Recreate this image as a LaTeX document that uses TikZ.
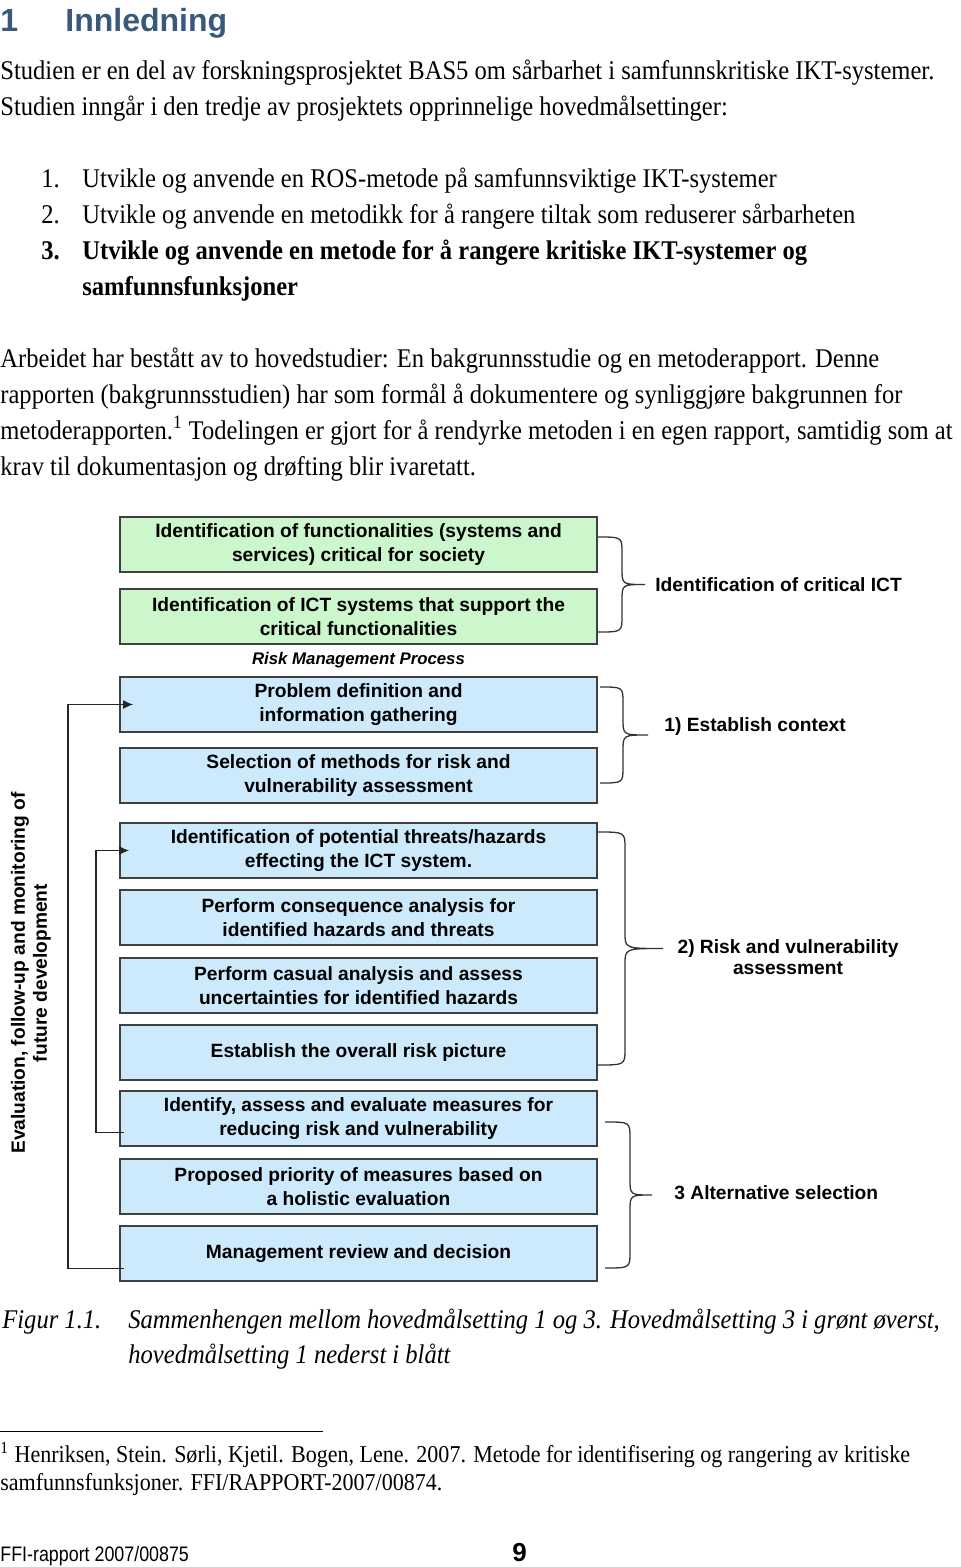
\documentclass[tikz,border=0pt]{standalone}
\usepackage{fontspec}
\setmainfont{Liberation Serif}[FakeStretch=0.91]
\setsansfont{Liberation Sans}
\newfontfamily\narrowsans{Liberation Sans}[FakeStretch=0.85]
\usepackage{xcolor}
\usetikzlibrary{positioning}
\usetikzlibrary{arrows.meta}
\usetikzlibrary{calc}

\definecolor{headblue}{RGB}{56,88,124}
\definecolor{goalgreen}{RGB}{204,246,204}
\definecolor{riskblue}{RGB}{204,234,252}
\definecolor{framegray}{RGB}{64,64,64}

% curly bracket: start x, spine x, tip x, top y, bottom y
\newcommand{\curly}[5]{%
	\draw [brace] (#1,#4) .. controls (#2,#4) .. (#2,#4+16)
		-- (#2,{(#4+#5)/2-16}) .. controls (#2,{(#4+#5)/2}) .. (#3,{(#4+#5)/2})
		.. controls (#2,{(#4+#5)/2}) .. (#2,{(#4+#5)/2+16})
		-- (#2,#5-16) .. controls (#2,#5) .. (#1,#5);}

\begin{document}
\begin{tikzpicture}[x=0.5pt, y=-0.5pt]
	\tikzstyle{body} = [anchor=base west, inner sep=0pt, font=\fontsize{13.5}{16}\selectfont]
	\tikzstyle{bodybold} = [body, font=\fontsize{13.5}{16}\selectfont\bfseries]
	\tikzstyle{caption} = [body, font=\fontsize{13.5}{16}\selectfont\itshape]
	\tikzstyle{note} = [body, font=\fontsize{12.1}{14}\selectfont]
	\tikzstyle{goal} = [draw=framegray, line width=0.75pt, fill=goalgreen, minimum width=238.5pt, minimum height=27.5pt, align=center, inner sep=0pt, outer sep=0pt, font=\sffamily\bfseries\fontsize{9.6}{12}\selectfont]
	\tikzstyle{riskbox} = [goal, fill=riskblue]
	\tikzstyle{phase} = [anchor=west, align=center, inner sep=0pt, font=\sffamily\bfseries\fontsize{9.6}{10.5}\selectfont]
	\tikzstyle{line} = [draw=black!85, -{Latex[length=5pt, width=4.5pt]}, line width=0.55pt]
	\tikzstyle{brace} = [draw=black!80, line width=0.65pt]
	
	\useasboundingbox (0,0) rectangle (960,1567);
	
	% heading and text
	\node [anchor=base west, inner sep=0pt, text=headblue, font=\sffamily\bfseries\fontsize{16}{19}\selectfont] (secnum) at (0,32) {1};
	\node [anchor=base west, inner sep=0pt, text=headblue, font=\sffamily\bfseries\fontsize{16}{19}\selectfont] (sectitle) at (65,32) {Innledning};
	
	\node [body] (intro1) at (0,80) {Studien er en del av forskningsprosjektet BAS5 om sårbarhet i samfunnskritiske IKT-systemer.};
	\node [body] (intro2) at (0,116) {Studien inngår i den tredje av prosjektets opprinnelige hovedmålsettinger:};
	
	\node [body] (num1) at (41,188) {1.};
	\node [body] (aim1) at (82,188) {Utvikle og anvende en ROS-metode på samfunnsviktige IKT-systemer};
	\node [body] (num2) at (41,224) {2.};
	\node [body] (aim2) at (82,224) {Utvikle og anvende en metodikk for å rangere tiltak som reduserer sårbarheten};
	\node [bodybold] (num3) at (41,260) {3.};
	\node [bodybold] (aim3a) at (82,260) {Utvikle og anvende en metode for å rangere kritiske IKT-systemer og};
	\node [bodybold] (aim3b) at (82,296) {samfunnsfunksjoner};
	
	\node [body] (work1) at (0,367) {Arbeidet har bestått av to hovedstudier: En bakgrunnsstudie og en metoderapport. Denne};
	\node [body] (work2) at (0,403) {rapporten (bakgrunnsstudien) har som formål å dokumentere og synliggjøre bakgrunnen for};
	\node [body] (work3) at (0,439) {metoderapporten.\textsuperscript{1} Todelingen er gjort for å rendyrke metoden i en egen rapport, samtidig som at};
	\node [body] (work4) at (0,475) {krav til dokumentasjon og drøfting blir ivaretatt.};
	
	% figure
	\node [goal] (func) at (358.5,544.5) {Identification of functionalities (systems and\\ services) critical for society};
	\node [goal, below=8.5pt of func] (ictsys) {Identification of ICT systems that support the\\ critical functionalities};
	\node [riskbox, below=16.5pt of ictsys] (problem) {Problem definition and\\ information gathering};
	\node [riskbox, below=8pt of problem] (methods) {Selection of methods for risk and\\ vulnerability assessment};
	\node [riskbox, below=10pt of methods] (threats) {Identification of potential threats/hazards\\ effecting the ICT system.};
	\node [riskbox, below=6pt of threats] (conseq) {Perform consequence analysis for\\ identified hazards and threats};
	\node [riskbox, below=6.5pt of conseq] (causal) {Perform casual analysis and assess\\ uncertainties for identified hazards};
	\node [riskbox, below=6pt of causal] (picture) {Establish the overall risk picture};
	\node [riskbox, below=5.5pt of picture] (measures) {Identify, assess and evaluate measures for\\ reducing risk and vulnerability};
	\node [riskbox, below=6.5pt of measures] (priority) {Proposed priority of measures based on\\ a holistic evaluation};
	\node [riskbox, below=6pt of priority] (review) {Management review and decision};
	
	\node [inner sep=0pt, font=\sffamily\bfseries\itshape\fontsize{8.4}{10}\selectfont] (rmp) at ($(ictsys.south)!0.5!(problem.north)$) {Risk Management Process};
	
	\path [line] ([shift={(2pt,-7.5pt)}]review.west) -- ++(-28pt,0) |- ([xshift=6.5pt]problem.west);
	\path [line] ([shift={(2pt,-7pt)}]measures.west) -- ++(-14pt,0) |- ([xshift=4.5pt]threats.west);
	
	\node [rotate=90, align=center, inner sep=0pt, font=\sffamily\bfseries\fontsize{9.6}{11}\selectfont] (evaluation) at (31,973) {Evaluation, follow-up and monitoring of\\ future development};
	
	\curly{598}{622}{645}{537}{632}
	\curly{600}{623}{648}{687}{783}
	\curly{597}{625}{663}{832}{1065}
	\curly{605}{630}{652}{1122}{1268}
	
	\node [phase] (critict) at (655,585) {Identification of critical ICT};
	\node [phase] (context) at (664,727) {1) Establish context};
	\node [phase, anchor=center] (riskvul) at (788,957) {2) Risk and vulnerability\\ assessment};
	\node [phase] (altsel) at (674,1193) {3 Alternative selection};
	
	% caption, footnote, footer
	\node [caption] (figlabel) at (2,1328) {Figur 1.1.};
	\node [caption] (cap1) at (128,1328) {Sammenhengen mellom hovedmålsetting 1 og 3. Hovedmålsetting 3 i grønt øverst,};
	\node [caption] (cap2) at (128,1363) {hovedmålsetting 1 nederst i blått};
	
	\draw [line width=0.5pt] (0,1431) -- (323,1431);
	\node [note] (fn1) at (0,1462) {\textsuperscript{1} Henriksen, Stein. Sørli, Kjetil. Bogen, Lene. 2007. Metode for identifisering og rangering av kritiske};
	\node [note] (fn2) at (0,1490) {samfunnsfunksjoner. FFI/RAPPORT-2007/00874.};
	
	\node [anchor=base west, inner sep=0pt, font=\narrowsans\fontsize{10.5}{12}\selectfont] (report) at (0,1561) {FFI-rapport 2007/00875};
	\node [anchor=base west, inner sep=0pt, font=\sffamily\bfseries\fontsize{13}{15}\selectfont] (page) at (512,1561) {9};
\end{tikzpicture}
\end{document}
